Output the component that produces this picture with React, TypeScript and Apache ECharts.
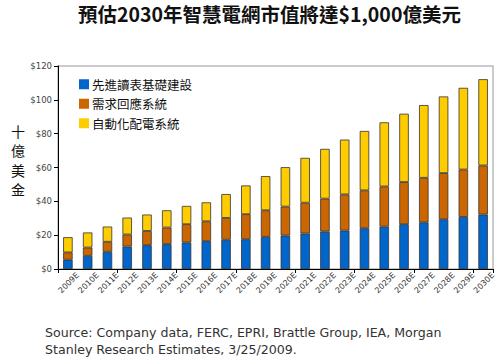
import React, { useEffect, useRef } from "react";
import * as echarts from "echarts";

const categories = ["2009E","2010E","2011E","2012E","2013E","2014E","2015E","2016E","2017E","2018E","2019E","2020E","2021E","2022E","2023E","2024E","2025E","2026E","2027E","2028E","2029E","2030E"];
// 先進讀表基礎建設 (AMI)
const amiValues = [5.5,7.8,10.2,13.3,14.1,14.7,15.7,16.5,17.3,17.6,19.0,19.8,21.0,22.2,22.7,24.1,25.1,26.5,27.6,29.4,30.8,32.2];
// 需求回應系統
const drValues = [4.3,4.9,5.9,7.1,8.4,9.8,10.8,11.7,12.9,14.8,15.7,17.1,18.2,19.4,21.4,22.4,23.7,24.9,26.3,27.3,28.0,29.0];
// 自動化配電系統
const daValues = [9.0,8.9,9.0,10.0,9.7,10.2,10.8,11.2,14.1,17.0,20.2,23.3,26.5,29.4,32.4,35.1,37.9,40.4,43.0,45.3,48.3,51.0];
const seriesNames = ["先進讀表基礎建設","需求回應系統","自動化配電系統"];
const colors = ["#0066cc","#cc6600","#ffcc00"];
const yTicks = { min: 0, max: 120, interval: 20 };
const yAxisTitleChars = ["十","億","美","金"];

export default function App() {
  const ref = useRef<HTMLDivElement>(null);
  useEffect(() => {
    if (!ref.current) return;
    const chart = echarts.init(ref.current, null, { renderer: "svg" });
    const data = [amiValues, drValues, daValues];
    chart.setOption({
      animation: false,
      backgroundColor: "#ffffff",
      title: {
        text: "預估2030年智慧電網市值將達$1,000億美元",
        left: 73,
        top: -1,
        textStyle: { fontFamily: "Noto Sans CJK TC", fontSize: 19.5, fontWeight: "bold", color: "#111" },
      },
      legend: {
        orient: "vertical",
        left: 74,
        top: 73,
        itemWidth: 10,
        itemHeight: 10,
        itemGap: 7,
        icon: "rect",
        data: seriesNames,
        itemStyle: { borderWidth: 0 },
        textStyle: { fontFamily: "Noto Sans CJK TC", fontSize: 12.5, color: "#111", padding: [0, 0, 0, -2] },
      },
      grid: { left: 58, right: 7, top: 66, bottom: 93, show: true, borderColor: "#bbbbbb", borderWidth: 1.5 },
      xAxis: [
        {
          type: "category",
          data: categories,
          axisLine: { lineStyle: { color: "#000", width: 1 } },
          axisTick: { show: true, length: 4, lineStyle: { color: "#000" } },
          axisLabel: { show: false },
        },
        {
          // label axis: each category's label sits at its right-hand tick, as in the reference
          type: "value",
          position: "bottom",
          min: 0,
          max: categories.length,
          interval: 1,
          axisLine: { show: false },
          axisTick: { show: false },
          splitLine: { show: false },
          axisLabel: {
            rotate: 45,
            fontSize: 8,
            color: "#333",
            fontFamily: "DejaVu Sans",
            margin: 5,
            formatter: (v: number) => (v >= 1 ? categories[v - 1] : ""),
          },
        },
      ],
      yAxis: {
        type: "value",
        min: yTicks.min,
        max: yTicks.max,
        interval: yTicks.interval,
        splitLine: { show: false },
        axisLine: { show: true, lineStyle: { color: "#000", width: 1 } },
        axisTick: { show: true, length: 4, lineStyle: { color: "#000" } },
        axisLabel: { formatter: (v: number) => "$" + v, fontSize: 8.5, color: "#444", fontFamily: "DejaVu Sans", margin: 6 },
      },
      graphic: [
        ...yAxisTitleChars.map((c, i) => ({
          type: "text",
          left: 11,
          top: 123 + i * 19.5,
          style: {
            text: c,
            fontFamily: "Noto Sans CJK TC",
            fontSize: 14,
            lineHeight: 15,
            fill: "#111",
          },
        })),
        {
          type: "text",
          left: 45,
          top: 324,
          style: {
            text: "Source: Company data, FERC, EPRI, Brattle Group, IEA, Morgan\nStanley Research Estimates, 3/25/2009.",
            fontFamily: "DejaVu Sans",
            fontSize: 12.6,
            lineHeight: 17,
            fill: "#333",
          },
        },
      ],
      series: seriesNames.map((name, i) => ({
        name,
        type: "bar",
        stack: "total",
        xAxisIndex: 0,
        barWidth: 9.5,
        data: data[i],
        itemStyle: { color: colors[i], borderColor: "#333", borderWidth: 0.8 },
      })),
    });
    return () => chart.dispose();
  }, []);
  return <div ref={ref} style={{ position: "absolute", left: 0, top: 0, width: 500, height: 362 }} />;
}
